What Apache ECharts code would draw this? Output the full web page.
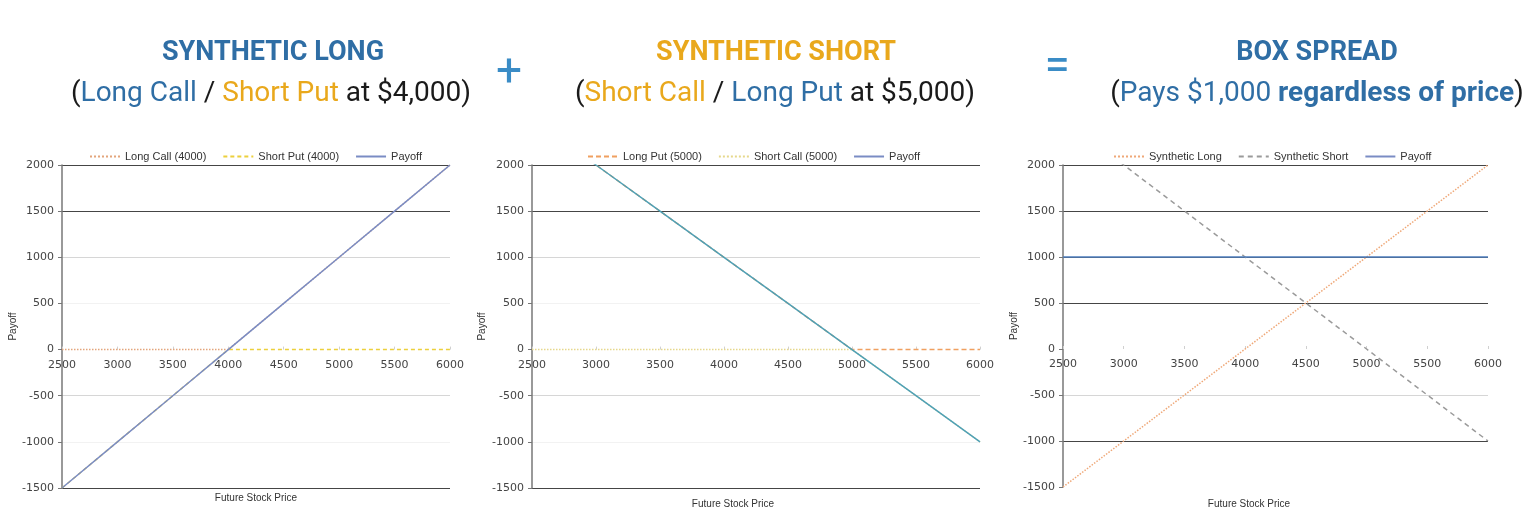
<!DOCTYPE html>
<html>
<head>
<meta charset="utf-8">
<script src="https://cdn.jsdelivr.net/npm/echarts@6/dist/echarts.min.js"></script>
<style>
html,body{margin:0;padding:0;background:#fff;}
#c{width:1538px;height:517px;}
</style>
</head>
<body>
<div id="c"></div>
<script>
// ---- data ----
const prices = [2500, 3000, 3500, 4000, 4500, 5000, 5500, 6000];
const longCall4000 = [0, 0, 0, 0, 500, 1000, 1500, 2000];
const shortPut4000 = [-1500, -1000, -500, 0, 0, 0, 0, 0];
const payoffLong = [-1500, -1000, -500, 0, 500, 1000, 1500, 2000];
const longPut5000 = [2500, 2000, 1500, 1000, 500, 0, 0, 0];
const shortCall5000 = [0, 0, 0, 0, 0, 0, -500, -1000];
const payoffShort = [2500, 2000, 1500, 1000, 500, 0, -500, -1000];
const syntheticLong = [-1500, -1000, -500, 0, 500, 1000, 1500, 2000];
const syntheticShort = [2500, 2000, 1500, 1000, 500, 0, -500, -1000];
const payoffBox = [1000, 1000, 1000, 1000, 1000, 1000, 1000, 1000];
const legend1 = ['Long Call (4000)', 'Short Put (4000)', 'Payoff'];
const legend2 = ['Long Put (5000)', 'Short Call (5000)', 'Payoff'];
const legend3 = ['Synthetic Long', 'Synthetic Short', 'Payoff'];
const xName = 'Future Stock Price';
const yName = 'Payoff';
const xMin = 2500, xMax = 6000, xStep = 500;
const yMin = -1500, yMax = 2000, yStep = 500;

// ---- styles ----
const BLUE = '#2f6ea5';
const ORANGE = '#e9a81c';
const SIGN = '#3a8cc6';
const DARK = '#454545';
const LIGHT = '#d6d6d6';
const FAINT = '#f2f2f2';
const NONE = 'rgba(0,0,0,0)';

const pts = arr => prices.map((p, i) => [p, arr[i]]);
const plain = v => String(v);

const grids = [
  {left: 62, top: 165, width: 388, height: 323},
  {left: 532, top: 165, width: 448, height: 323},
  {left: 1063, top: 165, width: 425, height: 322}
];
const splitColors = [
  [DARK, FAINT, LIGHT, NONE, FAINT, LIGHT, DARK, DARK],
  [DARK, FAINT, LIGHT, NONE, FAINT, LIGHT, DARK, DARK],
  [NONE, DARK, LIGHT, NONE, DARK, DARK, DARK, DARK]
];
const nameGaps = [40, 45, 43];

// x axis sits on y = 0 (offset from the bottom edge derived from the y scale)
const xAxes = grids.map((g, i) => ({
  type: 'value', gridIndex: i, min: xMin, max: xMax, interval: xStep,
  position: 'bottom',
  offset: -g.height * (0 - yMin) / (yMax - yMin),
  axisLine: {show: true, onZero: false, lineStyle: {color: NONE}},
  axisTick: {show: true, inside: true, length: 3, lineStyle: {color: '#d0d0d0'}},
  axisLabel: {color: '#444', fontFamily: 'DejaVu Sans', fontSize: 11, margin: 10, formatter: plain},
  splitLine: {show: false}
}));
const yAxes = grids.map((g, i) => ({
  type: 'value', gridIndex: i, min: yMin, max: yMax, interval: yStep,
  name: yName, nameLocation: 'middle', nameGap: nameGaps[i],
  nameTextStyle: {color: '#333', fontFamily: 'Liberation Sans', fontSize: 10},
  axisLine: {show: true, onZero: false, lineStyle: {color: '#777', width: 1.5}},
  axisTick: {show: true, length: 4, lineStyle: {color: '#777'}},
  axisLabel: {color: '#444', fontFamily: 'DejaVu Sans', fontSize: 11, margin: 8, formatter: plain},
  splitLine: {show: true, lineStyle: {color: splitColors[i], width: 1.2}}
}));

function line(name, data, idx, color, type, width, z) {
  return {
    name, type: 'line', xAxisIndex: idx, yAxisIndex: idx, data: pts(data),
    symbol: 'none', z: z || 2,
    lineStyle: {color, type, width: width || 1.5},
    itemStyle: {color}
  };
}

const series = [
  line(legend1[0], longCall4000, 0, '#e3a57c', 'dotted', 1.5),
  line(legend1[1], shortPut4000, 0, '#ecd03c', [4, 3], 1.5),
  line(legend1[2], payoffLong, 0, '#7a8cc4', 'solid', 1.5, 3),
  line(legend2[0], longPut5000, 1, '#f0a060', [5, 3], 1.5),
  line(legend2[1], shortCall5000, 1, '#e6d88c', 'dotted', 1.5),
  line(legend2[2], payoffShort, 1, '#4ea0b6', 'solid', 1.5, 3),
  line(legend3[0], syntheticLong, 2, '#efa878', 'dotted', 1.5),
  line(legend3[1], syntheticShort, 2, '#9a9a9a', [5, 4], 1.5),
  line(legend3[2], payoffBox, 2, '#4f7fbf', 'solid', 1.5, 3)
];

const legendBase = {
  top: 146, itemWidth: 30, itemHeight: 10, itemGap: 16,
  itemStyle: {opacity: 0},
  textStyle: {color: '#333', fontFamily: 'Liberation Sans', fontSize: 11},
  selectedMode: false
};
const legends = [
  Object.assign({}, legendBase, {left: 84, data: legend1}),
  Object.assign({}, legendBase, {left: 582, data: legend2}),
  Object.assign({}, legendBase, {left: 1108, data: legend3})
];

function titleText(x, y, text, rich, font, fill) {
  return {type: 'text', x, y, z: 10,
    style: {text, rich, font, fill, align: 'center', verticalAlign: 'middle'}};
}
const R = 'Roboto';
const richLine = {
  k: {fill: '#1a1a1a', fontFamily: R, fontSize: 28},
  b: {fill: BLUE, fontFamily: R, fontSize: 28},
  bb: {fill: BLUE, fontFamily: R, fontSize: 28, fontWeight: 'bold'},
  o: {fill: ORANGE, fontFamily: R, fontSize: 28}
};

const graphic = [
  titleText(273, 53, 'SYNTHETIC LONG', null, 'bold 27px Roboto', BLUE),
  titleText(271, 94, '{k|(}{b|Long Call}{k| / }{o|Short Put}{k| at $4,000)}', richLine, '28px Roboto', '#1a1a1a'),
  titleText(776, 53, 'SYNTHETIC SHORT', null, 'bold 27px Roboto', ORANGE),
  titleText(775, 94, '{k|(}{o|Short Call}{k| / }{b|Long Put}{k| at $5,000)}', richLine, '28px Roboto', '#1a1a1a'),
  titleText(1317, 53, 'BOX SPREAD', null, 'bold 27px Roboto', BLUE),
  titleText(1317, 94, '{k|(}{b|Pays $1,000 }{bb|regardless of price}{k|)}', richLine, '28px Roboto', '#1a1a1a'),
  titleText(509, 74, '+', null, '46px Roboto', SIGN),
  titleText(1057, 68, '=', null, '46px Roboto', SIGN),
  titleText(256, 498, xName, null, '10px Liberation Sans', '#333'),
  titleText(733, 504, xName, null, '10px Liberation Sans', '#333'),
  titleText(1249, 504, xName, null, '10px Liberation Sans', '#333')
];

const chart = echarts.init(document.getElementById('c'), null, {renderer: 'canvas'});
chart.setOption({
  animation: false,
  backgroundColor: '#fff',
  grid: grids,
  xAxis: xAxes,
  yAxis: yAxes,
  legend: legends,
  series,
  graphic
});
</script>
</body>
</html>
